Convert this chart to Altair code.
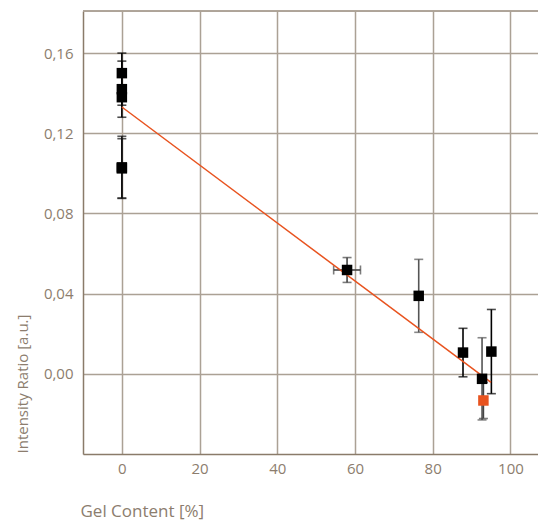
import altair as alt
import pandas as pd

gel = [0, 0, 0, 0, 0, 57.96, 76.4, 87.8, 92.7, 95.1]
ratio = [0.150, 0.142, 0.138, 0.103, 0.1025, 0.0518, 0.0389, 0.0106, -0.0025, 0.0111]
ratio_err = [0.010, 0.014, 0.004, 0.0155, 0.0148, 0.0062, 0.0182, 0.0121, 0.0205, 0.021]
gel_err = [0, 0, 0, 0, 0, 3.45, 0, 0, 0, 0]
err_color = ["#000000", "#000000", "#000000", "#111111", "#111111",
             "#444444", "#555555", "#000000", "#555555", "#000000"]

# Highlighted (orange) point
out_gel = [93.05]
out_ratio = [-0.0133]
out_err = [0.009]

# Linear fit end points
fit_gel = [0, 95]
fit_ratio = [0.1331, -0.0043]

x_ticks = [0, 20, 40, 60, 80, 100]
y_ticks = [0.0, 0.04, 0.08, 0.12, 0.16]

TEXT = "#8c7d6e"
AXIS = "#8a7b6a"
GRID = "#aba195"
ORANGE = "#e8531f"
FONT = "Open Sans"

df = pd.DataFrame({
    "gel": gel, "ratio": ratio,
    "lo": [r - e for r, e in zip(ratio, ratio_err)],
    "hi": [r + e for r, e in zip(ratio, ratio_err)],
    "xlo": [g - e for g, e in zip(gel, gel_err)],
    "xhi": [g + e for g, e in zip(gel, gel_err)],
    "gerr": gel_err,
    "ecol": err_color,
})
dfo = pd.DataFrame({
    "gel": out_gel, "ratio": out_ratio,
    "lo": [r - e for r, e in zip(out_ratio, out_err)],
    "hi": [r + e for r, e in zip(out_ratio, out_err)],
})
dff = pd.DataFrame({"gel": fit_gel, "ratio": fit_ratio})

xs = alt.Scale(domain=[-10, 107.1], nice=False, zero=False)
ys = alt.Scale(domain=[-0.04, 0.181], nice=False, zero=False)

xax = alt.Axis(values=x_ticks, title="Gel Content [%]", ticks=False,
               grid=True, gridColor=GRID, gridWidth=1.5,
               domainColor=AXIS, domainWidth=1.5,
               labelFont=FONT, labelFontSize=15, labelColor=TEXT, labelPadding=7,
               titleFont=FONT, titleFontSize=17, titleColor=TEXT, titleFontWeight="normal",
               titleAnchor="start", titleAlign="left", titleX=-3, titleY=57,
               titleBaseline="middle")
yax = alt.Axis(values=y_ticks, title="Intensity Ratio [a.u.]", ticks=False,
               grid=True, gridColor=GRID, gridWidth=1.5,
               domainColor=AXIS, domainWidth=1.5,
               labelFont=FONT, labelFontSize=15, labelColor=TEXT, labelPadding=10,
               labelExpr="replace(format(datum.value, '.2f'), '.', ',')",
               titleFont=FONT, titleFontSize=15, titleColor=TEXT, titleFontWeight="normal",
               titleAngle=270, titleAlign="left", titleX=-61, titleY=442,
               titleBaseline="middle")

X = alt.X("gel:Q", scale=xs, axis=xax)
Y = alt.Y("ratio:Q", scale=ys, axis=yax)

base = alt.Chart(df)

top_rule = alt.Chart(dff).mark_rule(color=GRID, strokeWidth=1.5).encode(
    x=alt.value(0), x2=alt.value(455), y=alt.value(0))

ebar = base.mark_rule(strokeWidth=1.6).encode(
    x=X, y=alt.Y("lo:Q", scale=ys, axis=yax), y2="hi:Q",
    color=alt.Color("ecol:N", scale=None))
cap_hi = base.mark_tick(orient="horizontal", size=9, thickness=1.6).encode(
    x=X, y=alt.Y("hi:Q", scale=ys), color=alt.Color("ecol:N", scale=None))
cap_lo = base.mark_tick(orient="horizontal", size=9, thickness=1.6).encode(
    x=X, y=alt.Y("lo:Q", scale=ys), color=alt.Color("ecol:N", scale=None))

xbar_base = base.transform_filter("datum.gerr > 0")
xbar = xbar_base.mark_rule(strokeWidth=1.6).encode(
    x=alt.X("xlo:Q", scale=xs), x2="xhi:Q", y=alt.Y("ratio:Q", scale=ys),
    color=alt.Color("ecol:N", scale=None))
xcap_lo = xbar_base.mark_tick(orient="vertical", size=9, thickness=1.6).encode(
    x=alt.X("xlo:Q", scale=xs), y=alt.Y("ratio:Q", scale=ys),
    color=alt.Color("ecol:N", scale=None))
xcap_hi = xbar_base.mark_tick(orient="vertical", size=9, thickness=1.6).encode(
    x=alt.X("xhi:Q", scale=xs), y=alt.Y("ratio:Q", scale=ys),
    color=alt.Color("ecol:N", scale=None))

obase = alt.Chart(dfo)
o_bar = obase.mark_rule(strokeWidth=1.6, color="#444444").encode(
    x=alt.X("gel:Q", scale=xs), y=alt.Y("lo:Q", scale=ys), y2="hi:Q")
o_cap_lo = obase.mark_tick(orient="horizontal", size=9, thickness=1.6, color="#444444").encode(
    x=alt.X("gel:Q", scale=xs), y=alt.Y("lo:Q", scale=ys))
o_cap_hi = obase.mark_tick(orient="horizontal", size=9, thickness=1.6, color="#444444").encode(
    x=alt.X("gel:Q", scale=xs), y=alt.Y("hi:Q", scale=ys))

fit = alt.Chart(dff).mark_line(color=ORANGE, strokeWidth=1.5).encode(
    x=alt.X("gel:Q", scale=xs), y=alt.Y("ratio:Q", scale=ys))

pts = base.mark_square(size=110, color="#000000", opacity=1).encode(x=X, y=Y)
opts = obase.mark_square(size=110, color=ORANGE, opacity=1).encode(
    x=alt.X("gel:Q", scale=xs), y=alt.Y("ratio:Q", scale=ys))

chart = alt.layer(
    top_rule, ebar, cap_hi, cap_lo, xbar, xcap_lo, xcap_hi,
    o_bar, o_cap_lo, o_cap_hi, fit, pts, opts
).properties(
    width=455, height=443,
    autosize=alt.AutoSizeParams(type="none"),
    padding={"left": 83, "top": 11, "right": 0, "bottom": 68},
).configure_view(stroke=None).configure(background="white")

chart.save("out.html", embed_options={"renderer": "svg", "actions": False})
